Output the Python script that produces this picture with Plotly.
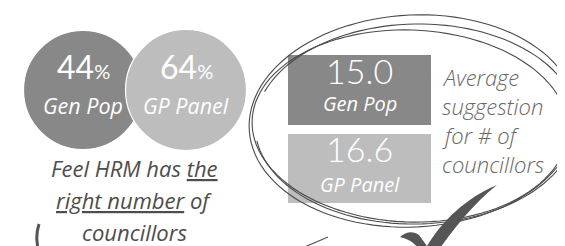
import numpy as np
import plotly.graph_objects as go

# ---- data ----
groups = ["Gen Pop", "GP Panel"]
pct_right_number = [44, 64]          # % feel HRM has the right number of councillors
avg_suggestion = [15.0, 16.6]        # average suggested number of councillors
left_caption = ["Feel HRM has <u>the</u>", "<u>right number</u> of", "councillors"]
right_caption = ["Average", "suggestion", "for # of", "councillors"]

# ---- styling ----
W, H = 565, 246
dark, light = "#888888", "#bdbdbd"
FONT = "Lato"
IFONT = "Open Sans"

fig = go.Figure()

# circles (percent bubbles)
circle_x = [75, 178]
circle_y = [82, 82]
fig.add_trace(go.Scatter(
    x=circle_x, y=circle_y, mode="markers",
    marker=dict(size=[119, 121], color=[dark, light], opacity=1,
                line=dict(color="white", width=1.2)),
    hoverinfo="skip", showlegend=False))

ann = []
for cx, cy, p, g in zip(circle_x, circle_y, pct_right_number, groups):
    ann.append(dict(x=cx, y=cy - 24, text=f"{p}<span style='font-size:20px'>%</span>",
                    font=dict(family=FONT, size=32, color="white", weight=400)))
    ann.append(dict(x=cx, y=cy + 15, text=f"<i>{g}</i>",
                    font=dict(family=IFONT, size=21.5, color="white")))

# caption under circles
for i, line in enumerate(left_caption):
    ann.append(dict(x=126, y=160 + i * 32, text=f"<i>{line}</i>",
                    font=dict(family=IFONT, size=22, color="#4d4d4d")))

# boxes for averages
shapes = []
box_x0, box_x1 = 280, 423
box_rows = [(47, 117), (126, 195)]
name_off = [48, 50]
num_off = [15, 14]
for (y0, y1), col, v, g, no, go_ in zip(box_rows, [dark, light], avg_suggestion, groups, num_off, name_off):
    shapes.append(dict(type="rect", xref="x", yref="y", x0=box_x0, x1=box_x1, y0=y0, y1=y1,
                       fillcolor=col, line=dict(width=0), layer="below"))
    cx = (box_x0 + box_x1) / 2
    ann.append(dict(x=cx, y=y0 + no, text=f"{v:.1f}",
                    font=dict(family=FONT, size=34, color="white", weight=300)))
    ann.append(dict(x=cx, y=y0 + go_, text=f"<i>{g}</i>",
                    font=dict(family=IFONT, size=20, color="white")))

for i, line in enumerate(right_caption):
    ann.append(dict(x=433, y=69 + i * 29, text=f"<i>{line}</i>", xanchor="left",
                    font=dict(family=IFONT, size=22, color="#666666", weight=300)))

# hand-drawn ellipse strokes
def ellipse_path(cx, cy, rx, ry, rot_deg, t0, t1, n=120):
    t = np.linspace(t0, t1, n)
    r = np.deg2rad(rot_deg)
    x = cx + rx * np.cos(t) * np.cos(r) - ry * np.sin(t) * np.sin(r)
    y = cy + rx * np.cos(t) * np.sin(r) + ry * np.sin(t) * np.cos(r)
    return "M " + " L ".join(f"{a:.1f},{b:.1f}" for a, b in zip(x, y))

strokes = [
    (405, 113, 164, 106, -3, 0.3, 2 * np.pi + 0.6),
    (402, 118, 158, 96, 2, 2.0, 2 * np.pi + 2.3),
    (408, 116, 161, 100, -1, 3.5, 2 * np.pi + 3.0),
]
for s in strokes:
    shapes.append(dict(type="path", xref="x", yref="y", path=ellipse_path(*s),
                       line=dict(color="#4a4a4a", width=1.1)))

# checkmark
shapes.append(dict(type="path", xref="x", yref="y",
                   path="M 392,229 C 398,223 406,223 411,227 L 419,238 C 435,212 458,190 489,177 "
                        "C 466,195 446,220 428,246 L 414,246 C 410,238 404,232 392,229 Z",
                   fillcolor="#555555", line=dict(width=0)))
# small triangle doodle
shapes.append(dict(type="path", xref="x", yref="y",
                   path="M 320,229 L 299,238 L 318,246",
                   line=dict(color="#555555", width=1.2)))
# bracket doodle
shapes.append(dict(type="path", xref="x", yref="y",
                   path="M 31,216 Q 26,232 32,246",
                   line=dict(color="#555555", width=3)))

for a in ann:
    a.setdefault("xref", "x")
    a.setdefault("yref", "y")
    a.setdefault("showarrow", False)
    a.setdefault("xanchor", "center")
    a.setdefault("yanchor", "middle")
    a.setdefault("borderpad", 0)

fig.update_layout(
    width=W, height=H, margin=dict(l=0, r=0, t=0, b=0),
    paper_bgcolor="white", plot_bgcolor="white",
    xaxis=dict(range=[0, W], visible=False, fixedrange=True),
    yaxis=dict(range=[H, 0], visible=False, fixedrange=True),
    shapes=shapes, annotations=ann, showlegend=False,
)
fig.write_html("out.html")
